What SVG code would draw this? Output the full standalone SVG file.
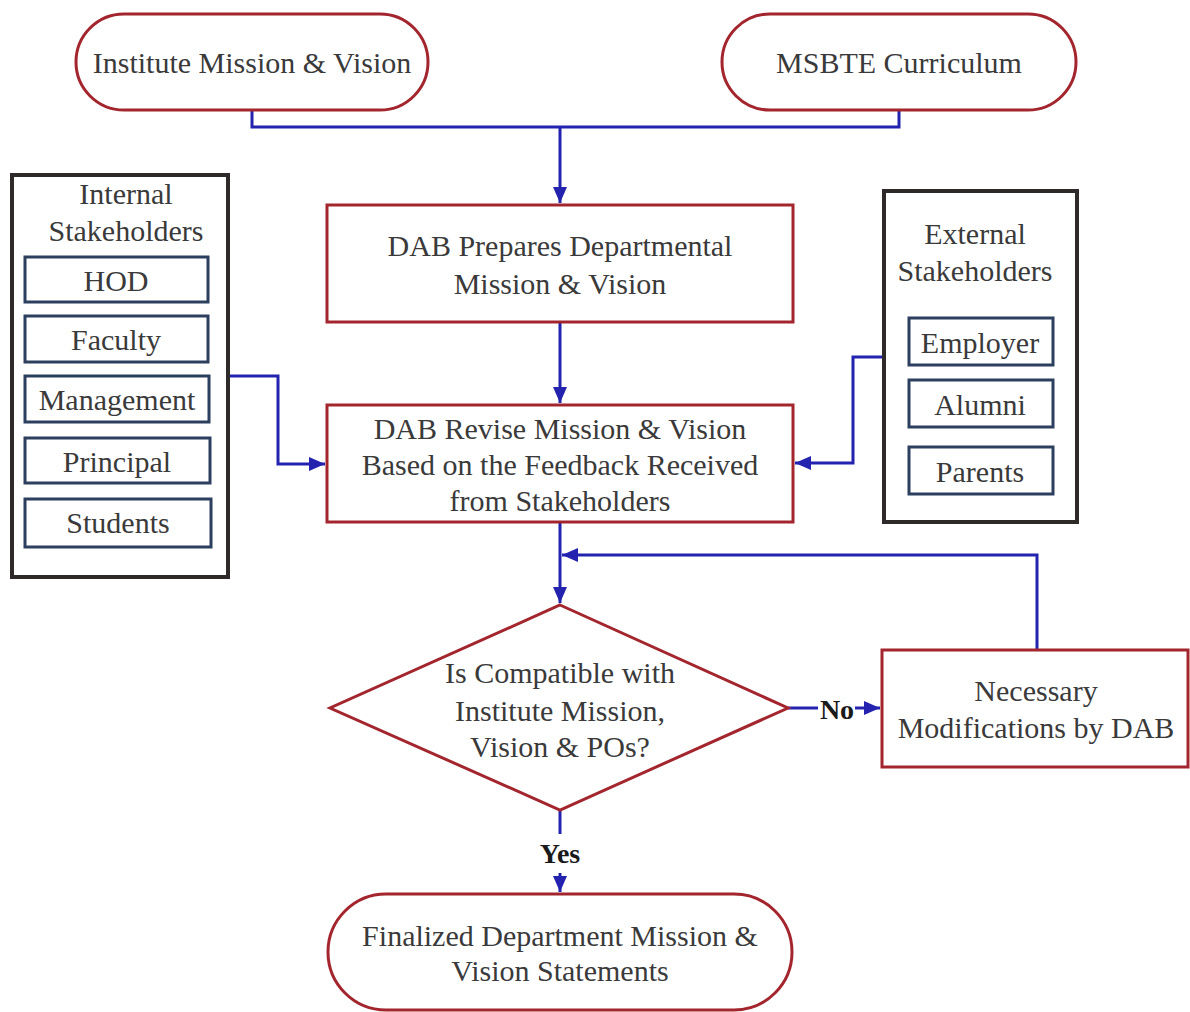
<svg xmlns="http://www.w3.org/2000/svg" width="1190" height="1012" viewBox="0 0 1190 1012">
<style>
text{font-family:"Liberation Serif","Times New Roman",serif;font-size:30px;fill:#3a3a3a;text-anchor:middle;dominant-baseline:central}
.red{fill:#fff;stroke:#a3262e;stroke-width:3}
.outer{fill:#fff;stroke:#2e2a2a;stroke-width:4}
.sub{fill:#fff;stroke:#2d3f5f;stroke-width:3}
.con{fill:none;stroke:#2323b0;stroke-width:3}
.lbl{font-weight:bold;fill:#1a1a1a;font-size:28px}
</style>
<defs>
<marker id="ah" markerUnits="userSpaceOnUse" markerWidth="18" markerHeight="14" refX="16" refY="7" orient="auto">
<path d="M0,0 L16,7 L0,14 Z" fill="#2323b0"/>
</marker>
</defs>
<rect width="1190" height="1012" fill="#fff"/>
<g id="connectors">
<path class="con" d="M252,110 V127 H899 V110"/>
<path class="con" d="M560,127 V203" marker-end="url(#ah)"/>
<path class="con" d="M560,322 V403" marker-end="url(#ah)"/>
<path class="con" d="M228,376 H278 V464 H325" marker-end="url(#ah)"/>
<path class="con" d="M884,357 H853 V463 H795" marker-end="url(#ah)"/>
<path class="con" d="M560,522 V603" marker-end="url(#ah)"/>
<path class="con" d="M1037,650 V555 H562" marker-end="url(#ah)"/>
<path class="con" d="M788,708 H818"/>
<path class="con" d="M855,708 H880" marker-end="url(#ah)"/>
<path class="con" d="M560,810 V834"/>
<path class="con" d="M560,873 V892" marker-end="url(#ah)"/>
<text class="lbl" x="837" y="709">No</text>
<text class="lbl" x="560" y="853">Yes</text>
</g>
<g id="institute">
<rect class="red" x="76" y="14" width="352" height="96" rx="48"/>
<text x="252" y="62">Institute Mission &amp; Vision</text>
</g>
<g id="msbte">
<rect class="red" x="722" y="14" width="354" height="96" rx="48"/>
<text x="899" y="62">MSBTE Curriculum</text>
</g>
<g id="prepare">
<rect class="red" x="327" y="205" width="466" height="117"/>
<text x="560" y="245">DAB Prepares Departmental</text>
<text x="560" y="283">Mission &amp; Vision</text>
</g>
<g id="revise">
<rect class="red" x="327" y="405" width="466" height="117"/>
<text x="560" y="428">DAB Revise Mission &amp; Vision</text>
<text x="560" y="464">Based on the Feedback Received</text>
<text x="560" y="500">from Stakeholders</text>
</g>
<g id="internal">
<rect class="outer" x="12" y="175" width="216" height="402"/>
<text x="126" y="193">Internal</text>
<text x="126" y="230">Stakeholders</text>
<rect class="sub" x="25" y="257" width="183" height="45"/>
<text x="116" y="280">HOD</text>
<rect class="sub" x="25" y="316" width="183" height="46"/>
<text x="116" y="339">Faculty</text>
<rect class="sub" x="25" y="376" width="184" height="46"/>
<text x="117" y="399">Management</text>
<rect class="sub" x="25" y="438" width="185" height="45"/>
<text x="117" y="461">Principal</text>
<rect class="sub" x="25" y="499" width="186" height="48"/>
<text x="118" y="522">Students</text>
</g>
<g id="external">
<rect class="outer" x="884" y="191" width="193" height="331"/>
<text x="975" y="233">External</text>
<text x="975" y="270">Stakeholders</text>
<rect class="sub" x="909" y="318" width="144" height="47"/>
<text x="980" y="342">Employer</text>
<rect class="sub" x="909" y="380" width="144" height="47"/>
<text x="980" y="404">Alumni</text>
<rect class="sub" x="909" y="447" width="144" height="47"/>
<text x="980" y="471">Parents</text>
</g>
<g id="decision">
<polygon class="red" points="560,605 788,708 560,810 330,708"/>
<text x="560" y="672">Is Compatible with</text>
<text x="560" y="710">Institute Mission,</text>
<text x="560" y="746">Vision &amp; POs?</text>
</g>
<g id="modify">
<rect class="red" x="882" y="650" width="306" height="117"/>
<text x="1036" y="690">Necessary</text>
<text x="1036" y="727">Modifications by DAB</text>
</g>
<g id="final">
<rect class="red" x="328" y="894" width="464" height="116" rx="58"/>
<text x="560" y="935">Finalized Department Mission &amp;</text>
<text x="560" y="970">Vision Statements</text>
</g>
</svg>
